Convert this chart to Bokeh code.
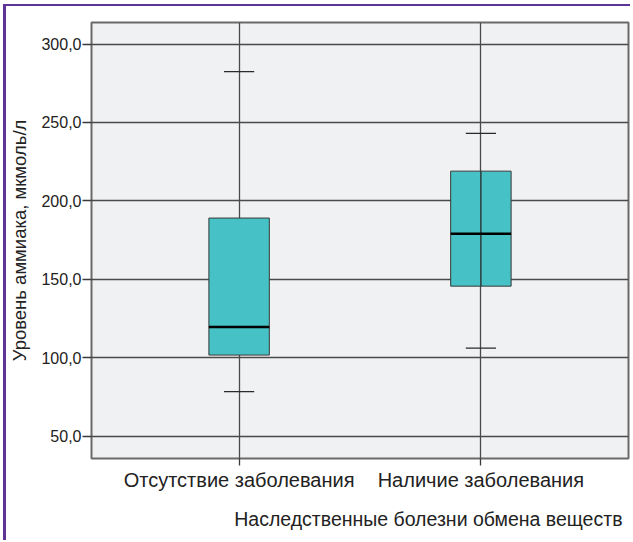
from bokeh.plotting import figure
from bokeh.models import Range1d, Title, FixedTicker
from bokeh.embed import file_html
from bokeh.resources import INLINE

groups = ["Отсутствие заболевания", "Наличие заболевания"]
lower_whisker = [78.5, 106.2]
q1 = [101.8, 145.7]
median = [119.7, 179.1]
q3 = [189.1, 219.0]
upper_whisker = [282.4, 243.0]
line_through_box = [False, True]

y_ticks = [50, 100, 150, 200, 250, 300]
y_tick_labels = ["50,0", "100,0", "150,0", "200,0", "250,0", "300,0"]

y_label = "Уровень аммиака, мкмоль/л"
x_title = "Наследственные болезни обмена веществ"

FONT = "Liberation Sans"
TXT = "#222222"
xs = list(range(1, len(groups) + 1))
box_w = 0.25
cap_w = 0.125

p = figure(width=627, height=536, output_backend="svg", toolbar_location=None,
           x_range=Range1d(0.3895, len(groups) + 0.6105), y_range=Range1d(35.9, 313.7),
           min_border_left=82, min_border_right=5, min_border_top=16, min_border_bottom=82)
p.styles = {"border-left": "3px solid #5e3495", "border-top": "2px solid #5e3495",
            "margin-left": "3px", "margin-top": "4px"}

p.background_fill_color = "#f0f1f3"
p.border_fill_color = "white"
p.outline_line_color = "#6a6a6a"
p.outline_line_width = 2

p.ygrid.ticker = FixedTicker(ticks=y_ticks)
p.xgrid.ticker = FixedTicker(ticks=xs)
for g in (p.xgrid, p.ygrid):
    g.grid_line_color = "#4a4a4a"
    g.grid_line_width = 1.3

# boxes
p.vbar(x=xs, width=box_w, bottom=q1, top=q3, fill_color="#46c1c5",
       line_color="#3a3a3a", line_width=1)
# line through box
lx = [x for x, f in zip(xs, line_through_box) if f]
ly0 = [a for a, f in zip(q1, line_through_box) if f]
ly1 = [a for a, f in zip(q3, line_through_box) if f]
p.segment(x0=lx, x1=lx, y0=ly0, y1=ly1, line_color="#2a2a2a", line_width=1.3)
# medians
p.segment(x0=[x - box_w / 2 for x in xs], x1=[x + box_w / 2 for x in xs],
          y0=median, y1=median, line_color="black", line_width=2.5)
# caps
p.segment(x0=[x - cap_w / 2 for x in xs], x1=[x + cap_w / 2 for x in xs],
          y0=upper_whisker, y1=upper_whisker, line_color="#2a2a2a", line_width=1.3)
p.segment(x0=[x - cap_w / 2 for x in xs], x1=[x + cap_w / 2 for x in xs],
          y0=lower_whisker, y1=lower_whisker, line_color="#2a2a2a", line_width=1.3)

# axes
p.yaxis.ticker = FixedTicker(ticks=y_ticks)
p.yaxis.major_label_overrides = dict(zip(y_ticks, y_tick_labels))
p.xaxis.ticker = FixedTicker(ticks=xs)
p.xaxis.major_label_overrides = dict(zip(xs, groups))
for ax in (p.xaxis, p.yaxis):
    ax.axis_line_color = None
    ax.major_tick_line_color = "#3a3a3a"
    ax.major_tick_line_width = 1.3
    ax.major_tick_in = 0
    ax.minor_tick_line_color = None
    ax.major_label_text_font = FONT
    ax.major_label_text_color = TXT
p.yaxis.major_tick_out = 9
p.yaxis.major_label_standoff = 1
p.yaxis.major_label_text_font_size = "16px"
p.xaxis.major_tick_out = 7
p.xaxis.major_label_standoff = 3
p.xaxis.major_label_text_font_size = "20px"

p.yaxis.axis_label = y_label
p.yaxis.axis_label_text_font = FONT
p.yaxis.axis_label_text_font_size = "18.5px"
p.yaxis.axis_label_text_font_style = "normal"
p.yaxis.axis_label_text_color = TXT
p.yaxis.axis_label_standoff = 8

t = Title(text=x_title, align="right", text_font=FONT, text_font_size="19.5px",
          text_font_style="normal", text_color=TXT, offset=6, standoff=25)
p.add_layout(t, "below")

open("out.html", "w").write(file_html(p, INLINE))
